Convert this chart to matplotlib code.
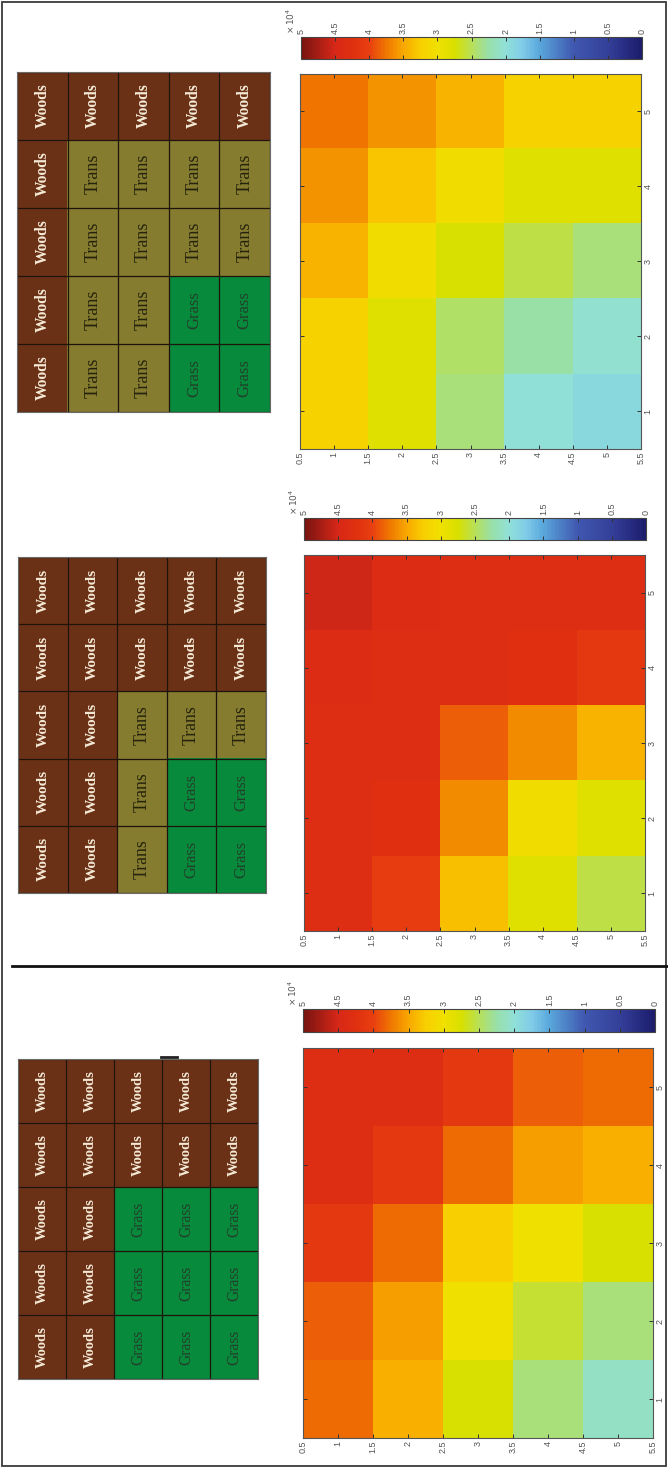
import numpy as np
import matplotlib
matplotlib.use("Agg")
import matplotlib.pyplot as plt
from matplotlib.colors import LinearSegmentedColormap, ListedColormap
from matplotlib.patches import Rectangle
from matplotlib.lines import Line2D

# ---------------- data ----------------
# land-cover grids (rows as drawn top -> bottom, columns left -> right)
land_top = [
    ["Woods", "Woods", "Woods", "Woods", "Woods"],
    ["Woods", "Trans", "Trans", "Trans", "Trans"],
    ["Woods", "Trans", "Trans", "Trans", "Trans"],
    ["Woods", "Trans", "Trans", "Grass", "Grass"],
    ["Woods", "Trans", "Trans", "Grass", "Grass"],
]
land_mid = [
    ["Woods", "Woods", "Woods", "Woods", "Woods"],
    ["Woods", "Woods", "Woods", "Woods", "Woods"],
    ["Woods", "Woods", "Trans", "Trans", "Trans"],
    ["Woods", "Woods", "Trans", "Grass", "Grass"],
    ["Woods", "Woods", "Trans", "Grass", "Grass"],
]
land_bot = [
    ["Woods", "Woods", "Woods", "Woods", "Woods"],
    ["Woods", "Woods", "Woods", "Woods", "Woods"],
    ["Woods", "Woods", "Grass", "Grass", "Grass"],
    ["Woods", "Woods", "Grass", "Grass", "Grass"],
    ["Woods", "Woods", "Grass", "Grass", "Grass"],
]
classes = ["Woods", "Trans", "Grass"]

# heat values (x 10^4); rows = tick 5 (top) ... tick 1 (bottom); columns = 1 ... 5 (left -> right)
heat_top = [
    [3.75, 3.60, 3.42, 3.22, 3.22],
    [3.60, 3.32, 3.05, 2.85, 2.85],
    [3.42, 3.05, 2.75, 2.55, 2.40],
    [3.22, 2.85, 2.45, 2.25, 2.05],
    [3.22, 2.85, 2.40, 2.00, 1.90],
]
heat_mid = [
    [4.55, 4.35, 4.30, 4.30, 4.30],
    [4.35, 4.30, 4.30, 4.25, 4.10],
    [4.30, 4.30, 3.85, 3.65, 3.42],
    [4.30, 4.25, 3.65, 3.05, 2.85],
    [4.30, 4.05, 3.35, 2.85, 2.55],
]
heat_bot = [
    [4.30, 4.30, 4.10, 3.85, 3.80],
    [4.30, 4.10, 3.80, 3.55, 3.45],
    [4.10, 3.80, 3.25, 3.00, 2.75],
    [3.85, 3.55, 3.00, 2.60, 2.40],
    [3.80, 3.45, 2.75, 2.40, 2.10],
]
row_ticks = [0.5, 1, 1.5, 2, 2.5, 3, 3.5, 4, 4.5, 5, 5.5]
col_ticks = [1, 2, 3, 4, 5]
cbar_ticks = [0, 0.5, 1, 1.5, 2, 2.5, 3, 3.5, 4, 4.5, 5]

# ---------------- style ----------------
W, H = 668, 1468
fig = plt.figure(figsize=(W / 100, H / 100), dpi=100)

cmap_pts = [
    (0.00, "#1c1c6c"), (0.50, "#34409a"), (1.00, "#4058b0"), (1.50, "#5aa8dc"),
    (1.75, "#80cce8"), (2.00, "#90e0d8"), (2.25, "#98e0a8"), (2.50, "#b8e058"),
    (2.75, "#d8e000"), (3.00, "#f0e000"), (3.25, "#f8d000"), (3.50, "#f8a800"),
    (3.75, "#f07800"), (4.00, "#e84010"), (4.25, "#e03010"), (4.50, "#d82818"),
    (5.00, "#781410"),
]
cmap = LinearSegmentedColormap.from_list("heat", [(v / 5.0, c) for v, c in cmap_pts])
land_colors = {"Woods": "#6b3116", "Trans": "#857c30", "Grass": "#078a3c"}
text_style = {
    "Woods": dict(color="#f4ead6", fontweight="bold"),
    "Trans": dict(color="#25230c", fontweight="normal"),
    "Grass": dict(color="#22402a", fontweight="normal"),
}
text_scale = {"Woods": 0.93, "Trans": 1.08, "Grass": 1.0}
tick_col = "#555555"


def frac(x0, y0, x1, y1):
    return [x0 / W, 1 - y1 / H, (x1 - x0) / W, (y1 - y0) / H]


def fmt(v):
    return f"{v:g}"


def draw_grid(rect, land, fs):
    ax = fig.add_axes(frac(*rect))
    codes = np.array([[classes.index(c) for c in row] for row in land])
    ax.imshow(codes, cmap=ListedColormap([land_colors[c] for c in classes]),
              vmin=-0.5, vmax=2.5, aspect="auto", interpolation="nearest")
    nr, nc = codes.shape
    ax.set_xticks(np.arange(-0.5, nc, 1), minor=True)
    ax.set_yticks(np.arange(-0.5, nr, 1), minor=True)
    ax.set_xticks([])
    ax.set_yticks([])
    ax.grid(which="minor", color="#1e140c", lw=0.9)
    ax.tick_params(which="both", length=0)
    for s in ax.spines.values():
        s.set_color("#6a6a6a")
        s.set_linewidth(0.8)
    for i, row in enumerate(land):
        for j, lab in enumerate(row):
            ax.text(j, i, lab, rotation=90, ha="center", va="center",
                    family="Liberation Serif", fontsize=fs * text_scale[lab],
                    **text_style[lab])
    return ax


def draw_heat(rect, cb_rect, vals):
    ax = fig.add_axes(frac(*rect))
    im = ax.imshow(np.array(vals), cmap=cmap, vmin=0, vmax=5, origin="upper",
                   extent=[0.5, 5.5, 0.5, 5.5], aspect="auto", interpolation="nearest")
    ax.set_xlim(0.5, 5.5)
    ax.set_ylim(0.5, 5.5)
    ax.set_xticks(row_ticks)
    ax.set_xticklabels([fmt(v) for v in row_ticks])
    ax.set_yticks(col_ticks)
    ax.set_yticklabels([fmt(v) for v in col_ticks])
    ax.yaxis.tick_right()
    ax.tick_params(direction="in", top=True, bottom=True, left=True, right=True,
                   labelleft=False, labelright=True, labelbottom=True,
                   length=3, width=0.7, color="#333333", labelsize=6.5,
                   labelcolor=tick_col, pad=2)
    ax.tick_params(axis="x", labelrotation=90)
    ax.tick_params(axis="y", labelrotation=90)
    for s in ax.spines.values():
        s.set_color("#555555")
        s.set_linewidth(0.8)
    for lab in ax.get_xticklabels():
        lab.set_family("Liberation Sans")
    for lab in ax.get_yticklabels():
        lab.set_family("Liberation Sans")
        lab.set_va("center")

    cax = fig.add_axes(frac(*cb_rect))
    cb = fig.colorbar(im, cax=cax, orientation="horizontal")
    cb.set_ticks(cbar_ticks)
    cb.set_ticklabels([fmt(v) for v in cbar_ticks])
    cax.set_xlim(5, 0)
    cax.xaxis.set_ticks_position("both")
    cax.tick_params(direction="in", top=True, bottom=True, labeltop=True, labelbottom=False,
                    length=3, width=0.7, color="#333333", labelsize=6.5,
                    labelcolor=tick_col, labelrotation=90, pad=2)
    for lab in cax.get_xticklabels():
        lab.set_family("Liberation Sans")
    cb.outline.set_edgecolor("#444444")
    cb.outline.set_linewidth(0.8)
    cax.text(-0.012, 1.15, r"$\times\,10^{4}$", transform=cax.transAxes, rotation=90,
             ha="right", va="bottom", fontsize=6.5, color=tick_col)
    return ax


# top panel
draw_grid((17, 72, 270, 412), land_top, 12.0)
draw_heat((300, 74, 641, 449), (301, 37, 642, 59), heat_top)
# middle panel
draw_grid((18, 557, 266, 893), land_mid, 11.8)
draw_heat((304, 555, 645, 931), (304, 518, 646, 540), heat_mid)
# bottom panel
draw_grid((18, 1059, 258, 1379), land_bot, 11.2)
draw_heat((303, 1048, 653, 1438), (303, 1009, 655, 1032), heat_bot)

# frame, separator and small mark
fig.add_artist(Rectangle((2 / W, 2 / H), 664 / W, 1464 / H, transform=fig.transFigure,
                         fill=False, lw=1.3, ec="#3a3a3a"))
fig.add_artist(Line2D([12 / W, 1.0], [1 - 966 / H] * 2, transform=fig.transFigure,
                      lw=2.0, color="#111111"))
fig.add_artist(Line2D([161 / W, 177 / W], [1 - 1057 / H] * 2, transform=fig.transFigure,
                      lw=2.0, color="#222222"))

fig.savefig("out.png", dpi=100, facecolor="white")
